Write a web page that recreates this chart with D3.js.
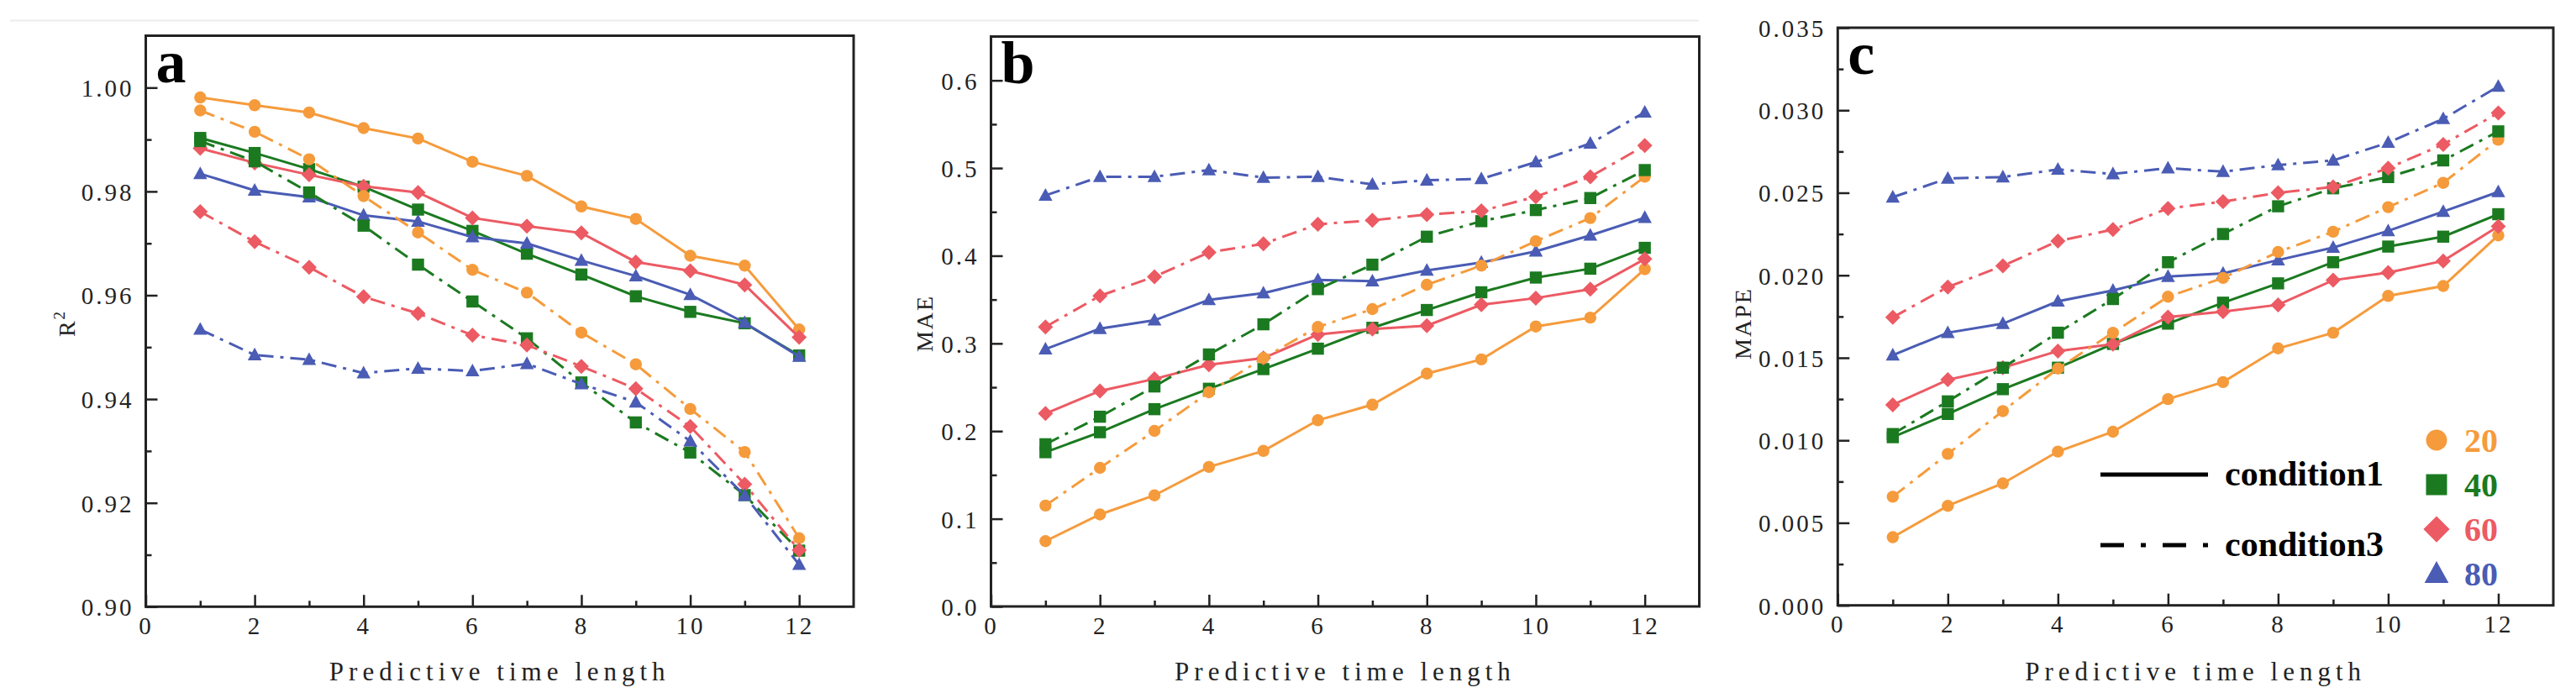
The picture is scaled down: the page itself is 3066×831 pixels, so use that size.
<!DOCTYPE html>
<html>
<head>
<meta charset="utf-8">
<script src="https://cdn.jsdelivr.net/npm/d3@7"></script>
<style>
html, body { margin: 0; padding: 0; background: #fff; }
svg { display: block; }
.tick text { font-family: "Liberation Serif", serif; font-size: 29px; letter-spacing: 3px; fill: #222; }
.tick line { stroke: #222; stroke-width: 2.5; }
</style>
</head>
<body>
<svg id="chart" width="3066" height="831"></svg>
<script>
// categories
var steps = [1, 2, 3, 4, 5, 6, 7, 8, 9, 10, 11, 12];
var groups = ["20", "40", "60", "80"];
var conditions = ["condition1", "condition3"];

// tick labels
var xTicks = [0, 2, 4, 6, 8, 10, 12];
var r2Ticks = [0.90, 0.92, 0.94, 0.96, 0.98, 1.00];
var maeTicks = [0.0, 0.1, 0.2, 0.3, 0.4, 0.5, 0.6];
var mapeTicks = [0.000, 0.005, 0.010, 0.015, 0.020, 0.025, 0.030, 0.035];

// R2, condition1 (solid) and condition3 (dash-dot)
var r2_20_c1 = [0.9981, 0.9966, 0.9952, 0.9922, 0.9902, 0.9857, 0.9830, 0.9771, 0.9747, 0.9676, 0.9657, 0.9534];
var r2_40_c1 = [0.9903, 0.9874, 0.9843, 0.9809, 0.9765, 0.9724, 0.9680, 0.9640, 0.9598, 0.9568, 0.9546, 0.9484];
var r2_60_c1 = [0.9883, 0.9855, 0.9832, 0.9810, 0.9798, 0.9749, 0.9733, 0.9720, 0.9664, 0.9647, 0.9620, 0.9519];
var r2_80_c1 = [0.9834, 0.9802, 0.9789, 0.9754, 0.9742, 0.9712, 0.9700, 0.9667, 0.9637, 0.9601, 0.9547, 0.9482];
var r2_20_c3 = [0.9956, 0.9915, 0.9862, 0.9791, 0.9721, 0.9649, 0.9605, 0.9528, 0.9467, 0.9381, 0.9298, 0.9132];
var r2_40_c3 = [0.9897, 0.9858, 0.9798, 0.9734, 0.9659, 0.9588, 0.9517, 0.9432, 0.9355, 0.9297, 0.9215, 0.9108];
var r2_60_c3 = [0.9761, 0.9703, 0.9654, 0.9597, 0.9565, 0.9523, 0.9504, 0.9463, 0.9420, 0.9347, 0.9236, 0.9109];
var r2_80_c3 = [0.9534, 0.9485, 0.9476, 0.9450, 0.9459, 0.9454, 0.9468, 0.9429, 0.9394, 0.9319, 0.9214, 0.9081];

// MAE
var mae_20_c1 = [0.0745, 0.1049, 0.1267, 0.1591, 0.1774, 0.2124, 0.2301, 0.2656, 0.2818, 0.3193, 0.3294, 0.3847];
var mae_40_c1 = [0.1759, 0.1987, 0.2250, 0.2483, 0.2707, 0.2940, 0.3178, 0.3381, 0.3583, 0.3751, 0.3852, 0.4090];
var mae_60_c1 = [0.2200, 0.2458, 0.2595, 0.2757, 0.2833, 0.3102, 0.3163, 0.3203, 0.3441, 0.3517, 0.3619, 0.3963];
var mae_80_c1 = [0.2935, 0.3168, 0.3264, 0.3497, 0.3573, 0.3725, 0.3710, 0.3832, 0.3923, 0.4050, 0.4232, 0.4435];
var mae_20_c3 = [0.1151, 0.1581, 0.2002, 0.2443, 0.2833, 0.3188, 0.3391, 0.3669, 0.3887, 0.4166, 0.4430, 0.4901];
var mae_40_c3 = [0.1850, 0.2164, 0.2509, 0.2874, 0.3218, 0.3619, 0.3898, 0.4217, 0.4394, 0.4521, 0.4658, 0.4977];
var mae_60_c3 = [0.3188, 0.3543, 0.3761, 0.4039, 0.4136, 0.4359, 0.4404, 0.4470, 0.4511, 0.4673, 0.4901, 0.5256];
var mae_80_c3 = [0.4688, 0.4901, 0.4901, 0.4977, 0.4891, 0.4901, 0.4815, 0.4861, 0.4876, 0.5068, 0.5281, 0.5636];

// MAPE
var mape_20_c1 = [0.00413, 0.00603, 0.00739, 0.00932, 0.01052, 0.01250, 0.01353, 0.01557, 0.01652, 0.01875, 0.01935, 0.02242];
var mape_40_c1 = [0.01019, 0.01160, 0.01310, 0.01440, 0.01584, 0.01707, 0.01834, 0.01951, 0.02079, 0.02174, 0.02234, 0.02370];
var mape_60_c1 = [0.01215, 0.01367, 0.01440, 0.01541, 0.01582, 0.01747, 0.01780, 0.01821, 0.01970, 0.02016, 0.02087, 0.02296];
var mape_80_c1 = [0.01516, 0.01652, 0.01707, 0.01842, 0.01908, 0.01992, 0.02011, 0.02092, 0.02168, 0.02269, 0.02386, 0.02505];
var mape_20_c3 = [0.00658, 0.00918, 0.01177, 0.01435, 0.01652, 0.01870, 0.01984, 0.02141, 0.02264, 0.02413, 0.02560, 0.02821];
var mape_40_c3 = [0.01038, 0.01236, 0.01440, 0.01652, 0.01856, 0.02079, 0.02250, 0.02418, 0.02527, 0.02595, 0.02696, 0.02872];
var mape_60_c3 = [0.01745, 0.01929, 0.02057, 0.02207, 0.02277, 0.02405, 0.02446, 0.02500, 0.02535, 0.02649, 0.02793, 0.02984];
var mape_80_c3 = [0.02473, 0.02587, 0.02595, 0.02641, 0.02614, 0.02649, 0.02628, 0.02668, 0.02696, 0.02804, 0.02948, 0.03144];

var colors = {"20": "#F59B3C", "40": "#1B7A20", "60": "#EC5A63", "80": "#4A5CB4"};
var shapes = {"20": "circle", "40": "square", "60": "diamond", "80": "triangle"};
var dashes = {"condition1": null, "condition3": "18,8,4,8"};

var panels = [
    {letter: "a", ylabel: "R", sup: "2", left: 173.5, right: 1016, top: 42.5, bottom: 722.3,
     yDomain: [0.90, 1.01], yTicks: r2Ticks, fmt: ".2f", ylabelX: 89,
     series: {condition1: [r2_20_c1, r2_40_c1, r2_60_c1, r2_80_c1],
              condition3: [r2_20_c3, r2_40_c3, r2_60_c3, r2_80_c3]}},
    {letter: "b", ylabel: "MAE", left: 1179.5, right: 2022.5, top: 43.5, bottom: 722,
     yDomain: [0, 0.65], yTicks: maeTicks, fmt: ".1f", ylabelX: 1110,
     series: {condition1: [mae_20_c1, mae_40_c1, mae_60_c1, mae_80_c1],
              condition3: [mae_20_c3, mae_40_c3, mae_60_c3, mae_80_c3]}},
    {letter: "c", ylabel: "MAPE", left: 2187.3, right: 3039, top: 33, bottom: 720.7,
     yDomain: [0, 0.035], yTicks: mapeTicks, fmt: ".3f", ylabelX: 2084, legend: true,
     series: {condition1: [mape_20_c1, mape_40_c1, mape_60_c1, mape_80_c1],
              condition3: [mape_20_c3, mape_40_c3, mape_60_c3, mape_80_c3]}}
];

var svg = d3.select("#chart");

// faint rule along the top of the first two panels
svg.append("line")
    .attr("x1", 12).attr("x2", 2022).attr("y1", 24.5).attr("y2", 24.5)
    .attr("stroke", "#ececec").attr("stroke-width", 2);

// marker paths, centred on 0,0
function markerPath(shape, s) {
    if (shape == "circle") {
        return "M" + (-s) + ",0A" + s + "," + s + " 0 1,0 " + s + ",0A" + s + "," + s + " 0 1,0 " + (-s) + ",0Z";
    }
    if (shape == "square") {
        return "M" + (-s) + "," + (-s) + "H" + s + "V" + s + "H" + (-s) + "Z";
    }
    if (shape == "diamond") {
        var d = s * 1.25;
        return "M0," + (-d) + "L" + d + ",0L0," + d + "L" + (-d) + ",0Z";
    }
    var h = s * 1.1;
    return "M0," + (-h * 1.1) + "L" + (s * 1.15) + "," + (h * 0.8) + "L" + (-s * 1.15) + "," + (h * 0.8) + "Z";
}

function midpoints(ticks, max) {
    var out = [];
    var step = ticks[1] - ticks[0];
    ticks.forEach(function (t) {
        var m = t + step / 2;
        if (m < max - step * 0.01) { out.push(m); }
    });
    return out;
}

panels.forEach(function (p) {
    var x = d3.scaleLinear().domain([0, 13]).range([p.left, p.right]);
    var y = d3.scaleLinear().domain(p.yDomain).range([p.bottom, p.top]);
    var g = svg.append("g");

    // axes: major ticks with labels, minor ticks without
    var xAxis = g.append("g").attr("transform", "translate(0," + p.bottom + ")")
        .call(d3.axisBottom(x).tickValues(xTicks).tickSize(-14).tickSizeOuter(0).tickPadding(12)
              .tickFormat(d3.format("d")));
    g.append("g").attr("transform", "translate(0," + p.bottom + ")")
        .call(d3.axisBottom(x).tickValues(midpoints(xTicks, 13)).tickSize(-7).tickSizeOuter(0).tickFormat(""));
    var yAxis = g.append("g").attr("transform", "translate(" + p.left + ",0)")
        .call(d3.axisLeft(y).tickValues(p.yTicks).tickSize(-14).tickSizeOuter(0).tickPadding(14)
              .tickFormat(d3.format(p.fmt)));
    g.append("g").attr("transform", "translate(" + p.left + ",0)")
        .call(d3.axisLeft(y).tickValues(midpoints(p.yTicks, p.yDomain[1])).tickSize(-7).tickSizeOuter(0).tickFormat(""));
    g.selectAll(".domain").remove();
    xAxis.selectAll("text").attr("dy", "0.71em");
    yAxis.selectAll("text").attr("dy", "0.36em");

    // frame
    g.append("rect")
        .attr("x", p.left).attr("y", p.top)
        .attr("width", p.right - p.left).attr("height", p.bottom - p.top)
        .attr("fill", "none").attr("stroke", "#222").attr("stroke-width", 3);

    // series
    var line = d3.line()
        .x(function (d, i) { return x(steps[i]); })
        .y(function (d) { return y(d); });

    conditions.forEach(function (cond) {
        p.series[cond].forEach(function (values, gi) {
            var grp = groups[gi];
            var sg = g.append("g");
            sg.append("path")
                .attr("d", line(values))
                .attr("fill", "none")
                .attr("stroke", colors[grp])
                .attr("stroke-width", 3)
                .attr("stroke-dasharray", dashes[cond]);
            sg.selectAll("path.mark").data(values).enter()
                .append("path")
                .attr("class", "mark")
                .attr("transform", function (d, i) { return "translate(" + x(steps[i]) + "," + y(d) + ")"; })
                .attr("d", markerPath(shapes[grp], 7.2))
                .attr("fill", colors[grp]);
        });
    });

    // panel letter
    g.append("text")
        .attr("x", p.left + 12).attr("y", p.top + 55)
        .attr("font-family", "'Liberation Serif', serif").attr("font-weight", "bold")
        .attr("font-size", 72).attr("fill", "#000")
        .text(p.letter);

    // axis titles
    g.append("text")
        .attr("x", (p.left + p.right) / 2).attr("y", 810)
        .attr("text-anchor", "middle")
        .attr("font-family", "'Liberation Serif', serif").attr("font-size", 31)
        .attr("letter-spacing", 6).attr("fill", "#222")
        .text("Predictive time length");

    var yl = g.append("text")
        .attr("transform", "translate(" + p.ylabelX + ",385) rotate(-90)")
        .attr("text-anchor", "middle")
        .attr("font-family", "'Liberation Serif', serif").attr("font-size", 28)
        .attr("letter-spacing", 2).attr("fill", "#222")
        .text(p.ylabel);
    if (p.sup) {
        yl.append("tspan").attr("font-size", 19).attr("dy", -12).text(p.sup);
    }

    // legend
    if (p.legend) {
        var lg = g.append("g");
        conditions.forEach(function (cond, i) {
            var ly = 565 + i * 84;
            lg.append("line")
                .attr("x1", 2500).attr("x2", 2628).attr("y1", ly).attr("y2", ly)
                .attr("stroke", "#000").attr("stroke-width", 5)
                .attr("stroke-dasharray", cond == "condition3" ? "28,20,6,20" : null);
            lg.append("text")
                .attr("x", 2648).attr("y", ly + 13)
                .attr("font-family", "'Liberation Serif', serif").attr("font-weight", "bold")
                .attr("font-size", 42).attr("fill", "#000")
                .text(cond);
        });
        groups.forEach(function (grp, i) {
            var cy = 524 + i * 53;
            lg.append("path")
                .attr("transform", "translate(2900," + cy + ")")
                .attr("d", markerPath(shapes[grp], 12.5))
                .attr("fill", colors[grp]);
            lg.append("text")
                .attr("x", 2933).attr("y", cy + 14)
                .attr("font-family", "'Liberation Serif', serif").attr("font-weight", "bold")
                .attr("font-size", 40).attr("fill", colors[grp])
                .text(grp);
        });
    }
});
</script>
</body>
</html>
